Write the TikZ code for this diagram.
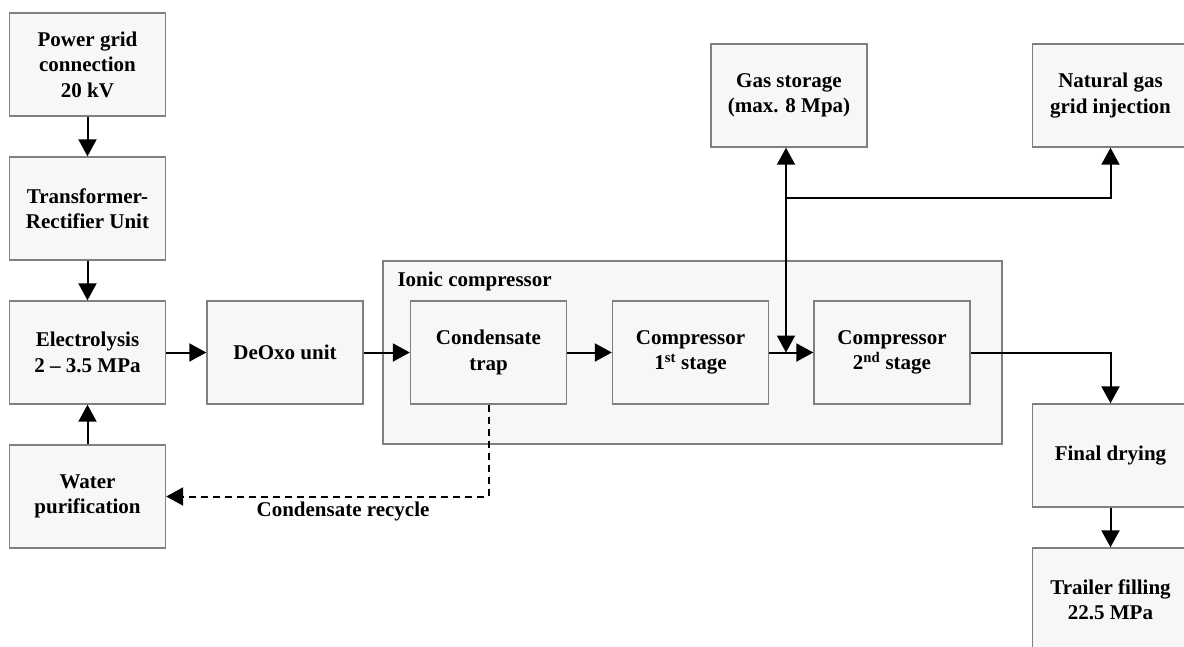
\documentclass[tikz,border=0pt]{standalone}
\usepackage{fontspec}
\setmainfont{Liberation Serif}
\usetikzlibrary{arrows.meta}
\definecolor{boxfill}{HTML}{F7F7F7}
\definecolor{boxline}{HTML}{808080}
\tikzset{
  unit/.style={rectangle, draw=boxline, fill=boxfill, line width=1.4pt,
    minimum width=156pt, minimum height=103pt, align=center, inner sep=2pt,
    font=\fontsize{21}{25.5}\selectfont\bfseries},
  flow/.style={line width=2pt, -{Triangle[length=17pt,width=18pt]}},
}
\begin{document}
\begin{tikzpicture}[x=1pt, y=-1pt]
\clip (0,0) rectangle (1184,646);
\fill[white] (0,0) rectangle (1184,646);

\draw[draw=boxline, fill=boxfill, line width=1.4pt] (383,261) rectangle (1002,444);
\node (ionic) at (394,281) [anchor=west, font=\fontsize{21}{25}\selectfont\bfseries] {Ionic compressor};

\node (grid) at (87.5, 64.5) [unit] {Power grid\\connection\\20 kV};
\node (trafo) at (87.5, 208.5) [unit] {Transformer-\\Rectifier Unit};
\node (elec) at (87.5, 352.5) [unit] {Electrolysis\\2 -- 3.5 MPa};
\node (water) at (87.5, 496.5) [unit] {Water\\purification};
\node (deoxo) at (285, 352.5) [unit] {DeOxo unit};
\node (trap) at (488.5, 352.5) [unit] {Condensate\\trap};
\node (comp1) at (690.5, 352.5) [unit] {Compressor\\1\textsuperscript{st} stage};
\node (comp2) at (892, 352.5) [unit] {Compressor\\2\textsuperscript{nd} stage};
\node (storage) at (789, 95.5) [unit] {Gas storage\\(max. 8 Mpa)};
\node (natgas) at (1110.5, 95.5) [unit] {Natural gas\\grid injection};
\node (drying) at (1110.5, 455.5) [unit] {Final drying};
\node (trailer) at (1110.5, 599.5) [unit] {Trailer filling\\22.5 MPa};

\coordinate (split) at (786, 198);
\coordinate (join) at (786, 352.5);

\draw[flow] (grid) to (trafo);
\draw[flow] (trafo) to (elec);
\draw[flow] (water) to (elec);
\draw[flow] (elec) to (deoxo);
\draw[flow] (deoxo) to (trap);
\draw[flow] (trap) to (comp1);
\draw[flow] (comp1) to (comp2);
\draw[flow, {Triangle[length=17pt,width=18pt]}-{Triangle[length=17pt,width=18pt]}] (storage.south -| join) to (join);
\draw[flow] (split) -| (natgas.south);
\draw[flow] (comp2.east) -| (drying.north);
\draw[flow] (drying) to (trailer);
\draw[flow, dash pattern=on 7pt off 5pt] (trap.south) |- (water.east);
\node (recycle) at (343, 511) [font=\fontsize{21}{25}\selectfont\bfseries] {Condensate recycle};
\end{tikzpicture}
\end{document}
